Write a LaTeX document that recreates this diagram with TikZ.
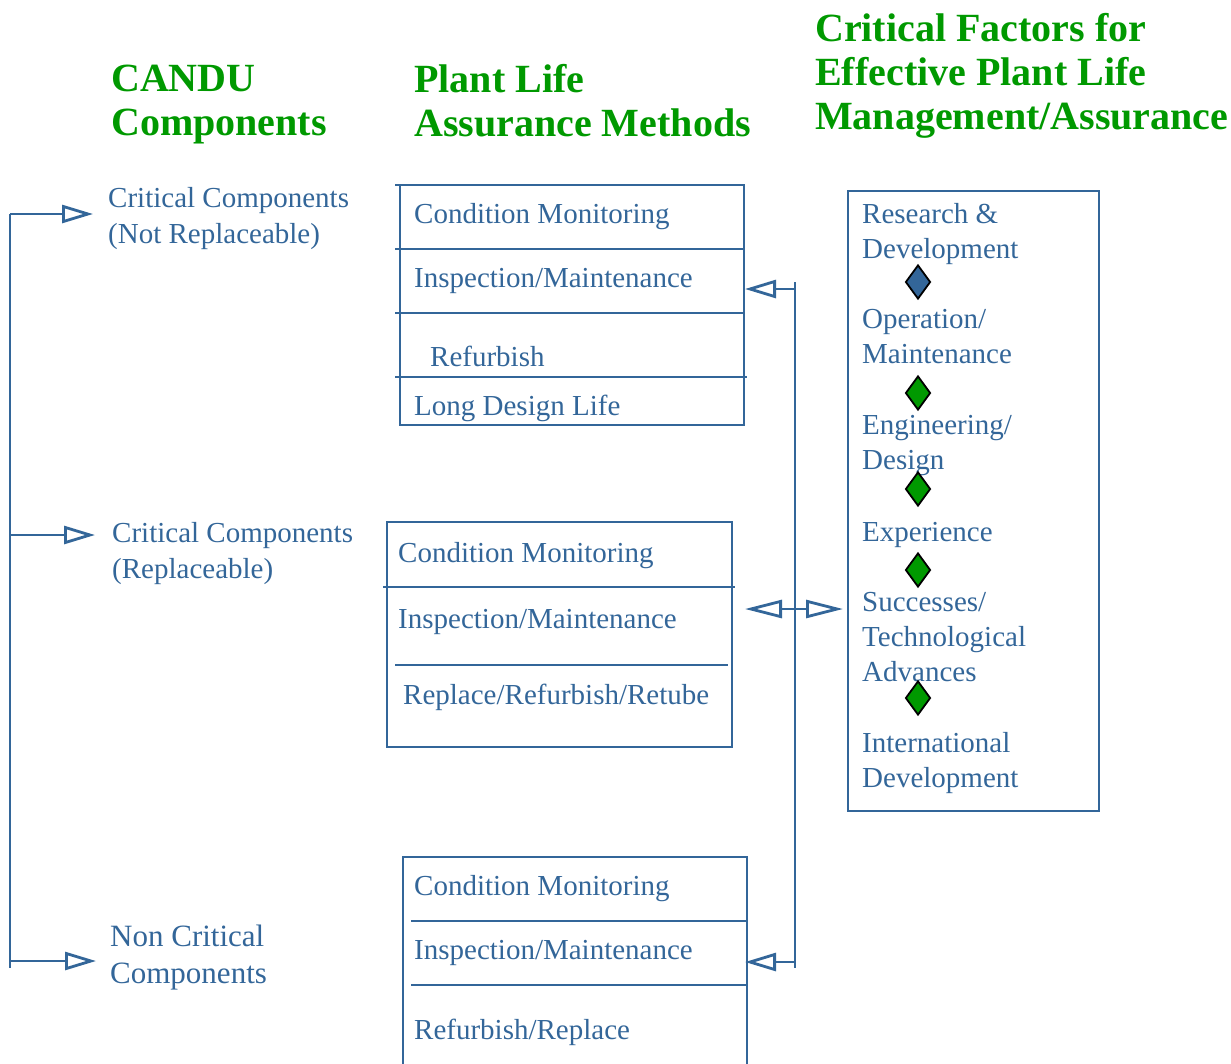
\documentclass[tikz,border=0pt]{standalone}
\usepackage{fontspec}
\setmainfont{Liberation Serif}
\usetikzlibrary{arrows.meta}
\usetikzlibrary{positioning}
\usetikzlibrary{shapes.geometric}

\definecolor{candublue}{RGB}{51,102,153}
\definecolor{candugreen}{RGB}{0,153,0}

\tikzset{
  title/.style={font=\bfseries\fontsize{40}{44}\selectfont,text=candugreen,align=left,anchor=base west,inner sep=0pt},
  item/.style={font=\fontsize{29}{35}\selectfont,text=candublue,align=left,anchor=base west,inner sep=0pt},
  wire/.style={draw=candublue,line width=2.8pt},
  link/.style={wire,-{Triangle[open,length=31pt,width=18pt]}},
  gem/.style={diamond,draw=black,line width=1.8pt,fill=#1,minimum width=25pt,minimum height=34pt,inner sep=0pt}
}

\begin{document}
\begin{tikzpicture}[x=1pt,y=-1pt]
\useasboundingbox (0,0) rectangle (1231,1063);

% column headings (base = last line)
\node[title] (hcandu) at (111,135) {CANDU\\Components};
\node[title] (hplam) at (414,136) {Plant Life\\Assurance Methods};
\node[title] (hfact) at (815,129) {Critical Factors for\\Effective Plant Life\\Management/Assurance};

% component classes and the left trunk
\node[item,font=\fontsize{29}{36}\selectfont] (cnr) at (108,243) {Critical Components\\(Not Replaceable)};
\node[item,font=\fontsize{29}{36}\selectfont] (crep) at (112,578) {Critical Components\\(Replaceable)};
\node[item,font=\fontsize{31}{37}\selectfont] (ncrit) at (110,983) {Non Critical\\Components};
\coordinate (ltop) at (10,214);
\coordinate (lmid) at (10,535);
\coordinate (lbot) at (10,961);
\coordinate (lend) at (10,968);
\coordinate (tcnr) at (93,214);
\coordinate (tcrep) at (95,535);
\coordinate (tncrit) at (96,961);
\draw[wire] (ltop) -- (lend);
\draw[link] (ltop) -- (tcnr);
\draw[link] (lmid) -- (tcrep);
\draw[link] (lbot) -- (tncrit);

% methods, not replaceable
\draw[wire] (400,185) rectangle (744,425);
\draw[wire] (395,185) -- (400,185);
\draw[wire] (395,249) -- (744,249);
\draw[wire] (395,313) -- (744,313);
\draw[wire] (395,377) -- (747,377);
\node[item] (cmon1) at (414,223) {Condition Monitoring};
\node[item] (insp1) at (414,287) {Inspection/Maintenance};
\node[item] (refb1) at (430,366) {Refurbish};
\node[item] (ldl1) at (414,415) {Long Design Life};

% methods, replaceable
\draw[wire] (387,522) rectangle (732,747);
\draw[wire] (383,587) -- (735,587);
\draw[wire] (395,665) -- (728,665);
\node[item] (cmon2) at (398,562) {Condition Monitoring};
\node[item] (insp2) at (398,628) {Inspection/Maintenance};
\node[item] (rrr2) at (403,704) {Replace/Refurbish/Retube};

% methods, non critical
\draw[wire] (403,1075) -- (403,857) -- (747,857) -- (747,1075);
\draw[wire] (411,921) -- (747,921);
\draw[wire] (411,985) -- (747,985);
\node[item] (cmon3) at (414,895) {Condition Monitoring};
\node[item] (insp3) at (414,959) {Inspection/Maintenance};
\node[item] (rr3) at (414,1039) {Refurbish/Replace};

% right trunk feeding the methods
\coordinate (rtop) at (795,282);
\coordinate (rend) at (795,968);
\coordinate (rone) at (795,289);
\coordinate (rthree) at (795,962);
\coordinate (bone) at (745,289);
\coordinate (btwo) at (745,609);
\coordinate (bthree) at (745,962);
\coordinate (fin) at (843,609);
\draw[wire] (rtop) -- (rend);
\draw[link] (rone) -- (bone);
\draw[link] (rthree) -- (bthree);
\draw[wire,{Triangle[open,length=37pt,width=18pt]}-{Triangle[open,length=37pt,width=18pt]}] (btwo) -- (fin);

% critical factors
\draw[wire] (848,191) rectangle (1099,811);
\node[item] (rnd) at (862,258) {Research \&\\Development};
\node[item] (opm) at (862,363) {Operation/\\Maintenance};
\node[item] (engd) at (862,469) {Engineering/\\Design};
\node[item] (expr) at (862,541) {Experience};
\node[item] (succ) at (862,681) {Successes/\\Technological\\Advances};
\node[item] (intl) at (862,787) {International\\Development};
\node[gem=candublue] (g1) at (918,282) {};
\node[gem=candugreen] (g2) at (918,393) {};
\node[gem=candugreen] (g3) at (918,489) {};
\node[gem=candugreen] (g4) at (918,570) {};
\node[gem=candugreen] (g5) at (918,698) {};

\end{tikzpicture}
\end{document}
